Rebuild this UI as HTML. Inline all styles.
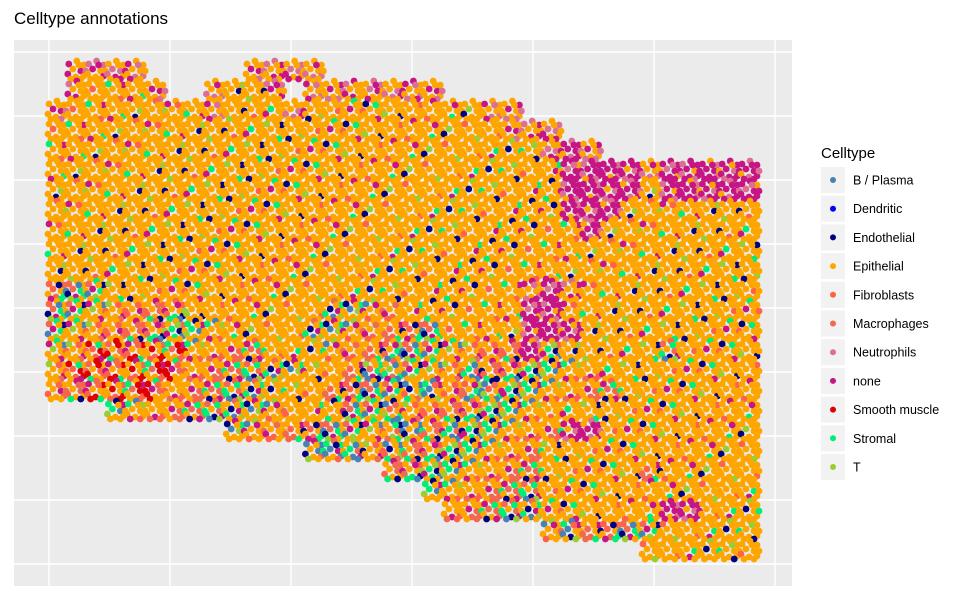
<!DOCTYPE html>
<html><head><meta charset="utf-8"><style>
body{margin:0;background:#fff;font-family:"Liberation Sans",sans-serif;}
svg{display:block}
</style></head><body>
<svg id="chart" width="960" height="600" xmlns="http://www.w3.org/2000/svg">
<text x="14" y="24" font-size="17" fill="#000">Celltype annotations</text>
<rect x="14" y="40" width="778" height="546" fill="#ebebeb"/>
<g id="grid"></g>
<g id="pts"></g>
<g id="legend">
<text x="821" y="158" font-size="15" fill="#000">Celltype</text>
</g>
</svg>
<script>
const categories=["B / Plasma","Dendritic","Endothelial","Epithelial","Fibroblasts","Macrophages","Neutrophils","none","Smooth muscle","Stromal","T"];
const colors=["#4682B4","#0000FF","#000080","#FFA500","#FF6347","#EE6A50","#DB7093","#C71585","#E00000","#00EE76","#9ACD32"];
// tissue map: 20px cells, region codes (E epithelial, e epithelial edge, N none, X mixed, R smooth-muscle mix, B B/plasma mix)
const tissueRows=[
".eeee.....eeee......................",
".eEEEe..eEEe.eeeeeee................",
"eEEEEEEEeEEEeEEEEEEEEEee............",
"EEEEEEEEEEEEEEEEEEEEEEEeee..........",
"EEEEEEEEEEEEEEEEEEEEEEEEEeNe........",
"EEEEEEEEEEEEEEEEEEEEEEEEEENNNNeNNNNN",
"EEEEEEEEEEEEEEEEEEEEEEEEEENNNNENNNNN",
"EEEEEEEEEEEEEEEEEEEEEEEEEENNNEEEEEEE",
"EEEEEEEEEEEEEEEEEEEEEEEEEEENEEEEEEEE",
"EEEEEEEEEEEEEEEEEEEEEEEEEEEEEEEEEEEE",
"EEEEEEEEEEEEEEEEEEEEEEEEEEEEEEEEEEEE",
"XXXEEEEEEEEEEEEEEEEEEEEEeNeEEEEEEEEE",
"XXXXXXXEEEEEEEXXXXEEEEEENNEEEEEEEEEE",
"XXXXXXXXXEEEEXXXXXXXEEEENNNEEEEEEEEE",
"XXRRRRRXXXXEEEXXXBXXXXXXNXEEEEEXEEEE",
"XRRRRRRXXXXXXEEXBBXXXBXXXXXXEEEEEEEE",
"XXRRRRXXXXXEEEXXXXBBXBBXXXXXXEEEEEEE",
"...XXXXXXXXXEEEXXBXXXXXXXEEEEEEEEEEE",
".........XXXXXXXXBBXBXXXXXNNEEEEEEEE",
".............BBBXBXXXXXXXEEEEEEEEEEE",
".................XXXXXXXXEEEEEXEEEEE",
"...................XXXXXXEEEEEEEEEEE",
"....................XXXXXEEEEEENNEEE",
".........................XBXXXXEEEEE",
"..............................EEEEEE"
];
const mixE=[3,3,3,3,10,3,3,3,3,3,3,3,3,3,9,3,3,3,2,3,3,3,3,3,4,3,3,3,7,3];
const mixe=[3,7,6,3,7,3,6,3,3,7,3,6,3,3];
const mixN=[7,7,6,7,7,3,7,6,7,7];
const mixX=[9,4,3,5,7,10,3,3,0,3,3,9,4,3,7,5,3,2,3,3];
const mixR=[8,3,4,8,9,3,7,5,8,3,3,4];
const mixB=[0,9,3,4,0,7,5,10,3,3,0,9,3,2];

const svgNS="http://www.w3.org/2000/svg";
const cellX=c=>47+19.8*c, cellY=r=>60+20*r;
const grid=document.getElementById('grid');
[49,170,291,412,533,654,775].forEach(x=>{const l=document.createElementNS(svgNS,'line');l.setAttribute('x1',x);l.setAttribute('x2',x);l.setAttribute('y1',40);l.setAttribute('y2',586);l.setAttribute('stroke','#fff');l.setAttribute('stroke-width',1.4);


grid.appendChild(l);});
[52,116,180,244,308,372,436,500,564].forEach(y=>{const l=document.createElementNS(svgNS,'line');l.setAttribute('y1',y);l.setAttribute('y2',y);l.setAttribute('x1',14);l.setAttribute('x2',792);l.setAttribute('stroke','#fff');l.setAttribute('stroke-width',1.4);


grid.appendChild(l);});

const offs=[[2,4],[10,1],[17,5],[6,9],[14,11],[1,14],[9,17],[17,16],[12,5],[4,19],[14,19],[19,11]];
const mixes={E:mixE,e:mixe,N:mixN,X:mixX,R:mixR,B:mixB};
const pts=document.getElementById('pts');
tissueRows.forEach((row,r)=>{
  for(let c=0;c<36;c++){
    const code=row[c]||'.';
    const mix=mixes[code]; if(!mix) continue;
    offs.forEach((o,i)=>{
      const k=mix[(r*131+c*71+i*37)%mix.length];
      const p=document.createElementNS(svgNS,'circle');
      p.setAttribute('cx',cellX(c)+o[0]);p.setAttribute('cy',cellY(r)+o[1]);p.setAttribute('r',3.4);
      p.setAttribute('fill',colors[k]);
      
      
      pts.appendChild(p);
    });
  }
});

const lg=document.getElementById('legend');
categories.forEach((cat,i)=>{
  const y=180+i*28.7;
  const g=document.createElementNS(svgNS,'g');
  
  
  const bx=document.createElementNS(svgNS,'rect');
  bx.setAttribute('x',821);bx.setAttribute('y',y-13);bx.setAttribute('width',24);bx.setAttribute('height',26);bx.setAttribute('fill','#f2f2f2');
  const d=document.createElementNS(svgNS,'circle');
  d.setAttribute('cx',833);d.setAttribute('cy',y);d.setAttribute('r',3);d.setAttribute('fill',colors[i]);
  const t=document.createElementNS(svgNS,'text');
  t.setAttribute('x',853);t.setAttribute('y',y+4.5);t.setAttribute('font-size',12.5);t.textContent=cat;
  g.appendChild(bx);g.appendChild(d);g.appendChild(t);lg.appendChild(g);
});
</script>
</body></html>
